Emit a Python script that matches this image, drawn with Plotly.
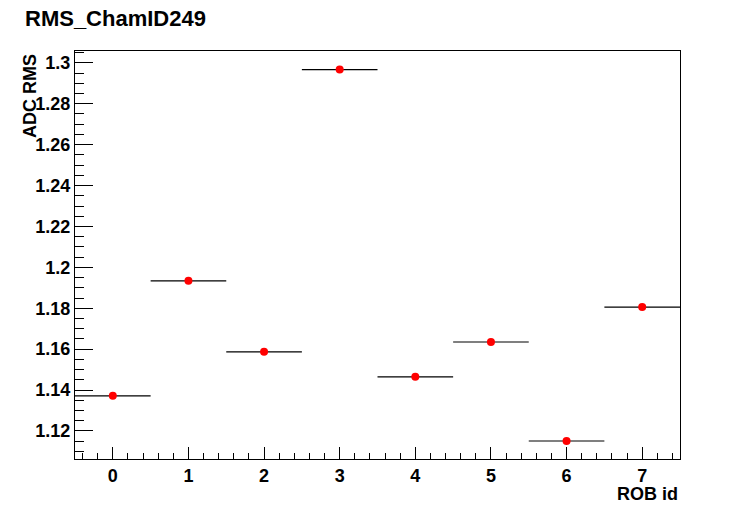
import plotly.graph_objects as go

rob_ids = [0, 1, 2, 3, 4, 5, 6, 7]
adc_rms = [1.1372, 1.1934, 1.1587, 1.2967, 1.1465, 1.1635, 1.1151, 1.1806]
bin_half_width = [0.5] * 8

FONT = "Liberation Sans, Arial, Helvetica, sans-serif"

fig = go.Figure()
fig.add_trace(go.Scatter(
    x=rob_ids, y=adc_rms, mode="markers",
    marker=dict(color="#ff0000", size=8, symbol="circle"),
    error_x=dict(type="data", array=bin_half_width, color="black", thickness=1.2, width=0),
    showlegend=False,
))

axis_common = dict(
    showline=True, linecolor="black", linewidth=1, mirror=True,
    showgrid=False, zeroline=False, ticks="inside", tickcolor="black",
    tickfont=dict(family=FONT, size=18, color="black", weight="bold"),
)

fig.update_xaxes(
    range=[-0.5, 7.5], dtick=1, tick0=0, ticklen=12,
    minor=dict(ticks="inside", dtick=0.2, tick0=0, ticklen=6, tickcolor="black"),
    **axis_common,
)
fig.update_yaxes(
    range=[1.1063, 1.3058], dtick=0.02, tick0=1.0, ticklen=18,
    minor=dict(ticks="inside", dtick=0.005, tick0=1.0, ticklen=9, tickcolor="black"),
    **axis_common,
)

fig.update_layout(
    width=756, height=511,
    margin=dict(l=75, r=76, t=51, b=52),
    paper_bgcolor="white", plot_bgcolor="white",
    annotations=[
        dict(text="RMS_ChamID249", xref="paper", yref="paper", x=0, y=1,
             xshift=-52, yshift=32.5,
             xanchor="left", yanchor="middle", showarrow=False,
             font=dict(family=FONT, size=22, color="black", weight="bold")),
        dict(text="ADC RMS", xref="paper", yref="paper", x=0, y=1, xshift=-45, yshift=-1,
             xanchor="center", yanchor="top", textangle=-90, showarrow=False,
             font=dict(family=FONT, size=18, color="black", weight="bold")),
        dict(text="ROB id", xref="paper", yref="paper", x=1, y=0, yshift=-35,
             xanchor="right", yanchor="middle", showarrow=False,
             font=dict(family=FONT, size=18, color="black", weight="bold")),
    ],
)

fig.write_html("out.html", config={"displayModeBar": False},
               post_script="document.body.style.margin='0';")
